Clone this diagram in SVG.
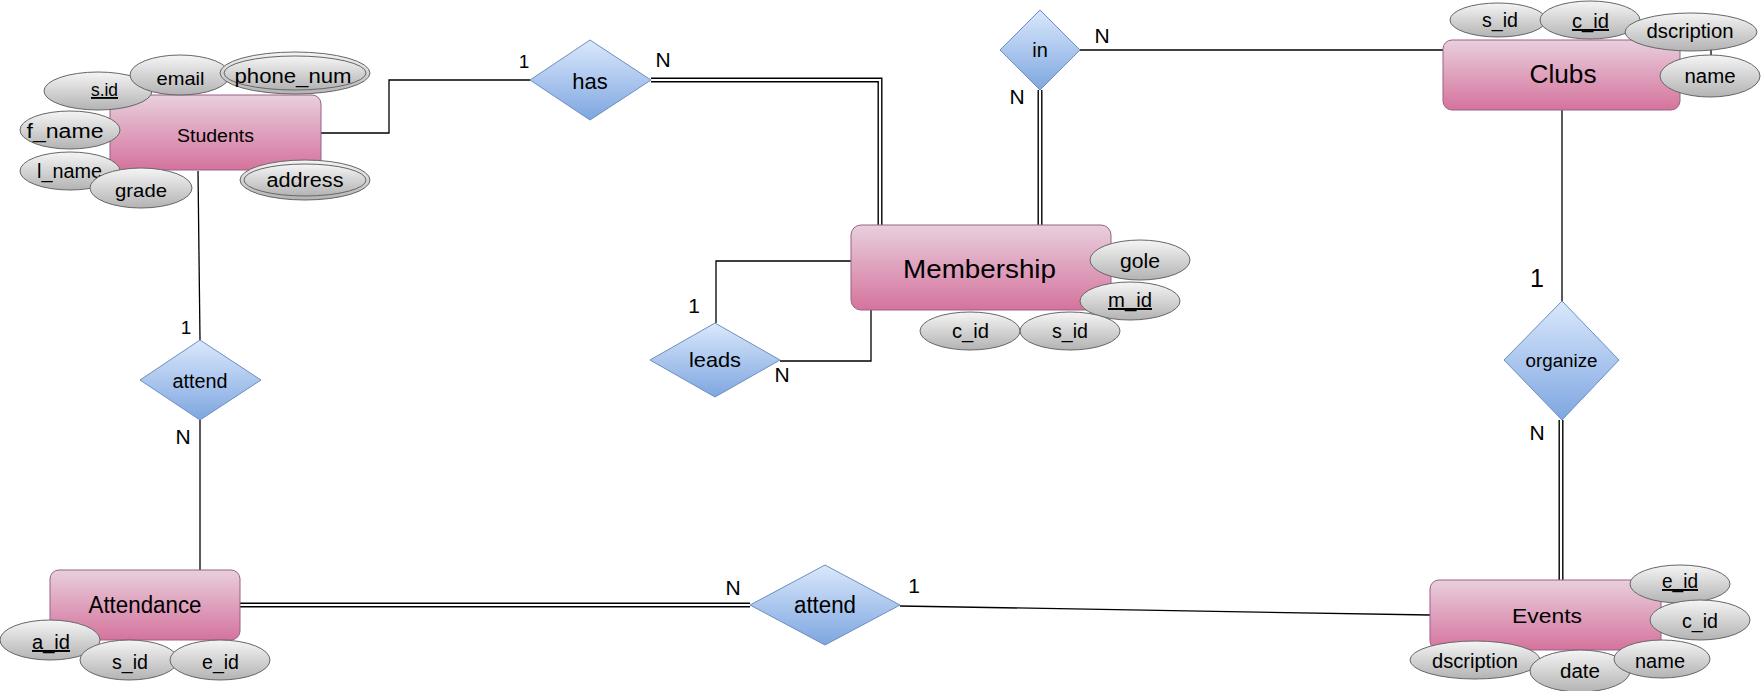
<svg xmlns="http://www.w3.org/2000/svg" width="1761" height="691" viewBox="0 0 1761 691">
<defs>
<linearGradient id="gEnt" x1="0" y1="0" x2="0" y2="1"><stop offset="0" stop-color="#E8CFDD"/><stop offset="1" stop-color="#D5739D"/></linearGradient>
<linearGradient id="gRel" x1="0" y1="0" x2="0" y2="1"><stop offset="0" stop-color="#DAE8FC"/><stop offset="1" stop-color="#7EA6E0"/></linearGradient>
<linearGradient id="gAtt" x1="0" y1="0" x2="0" y2="1"><stop offset="0" stop-color="#F5F5F5"/><stop offset="1" stop-color="#B3B3B3"/></linearGradient>
</defs>
<style>
text{font-family:"Liberation Sans",Arial,sans-serif;text-anchor:middle;fill:#000}
.ent rect{fill:url(#gEnt);stroke:#996185;stroke-width:1}
.rel polygon{fill:url(#gRel);stroke:#6C8EBF;stroke-width:1}
.att ellipse{fill:url(#gAtt);stroke:#666;stroke-width:1}
.ln{stroke:#000;stroke-width:1.3;fill:none}
.dbl{stroke:#000;stroke-width:5;fill:none}
.dbli{stroke:#fff;stroke-width:2.2;fill:none}
.u{text-decoration:underline}
.card{font-size:21px}
</style>
<rect width="1761" height="691" fill="#fff"/>
<g id="connectors">
<polyline class="ln" points="321,133 389,133 389,80 530,80"/>
<polyline class="dbl" points="651,80 880,80 880,225"/>
<polyline class="dbli" points="651,80 880,80 880,225"/>
<line class="ln" x1="1080" y1="50" x2="1443" y2="50"/>
<line class="dbl" x1="1040" y1="90" x2="1040" y2="225"/>
<line class="dbli" x1="1040" y1="90" x2="1040" y2="225"/>
<polyline class="ln" points="851,261 716,261 716,323"/>
<polyline class="ln" points="780,361 871,361 871,310"/>
<line class="ln" x1="1562" y1="110" x2="1562" y2="301"/>
<line class="dbl" x1="1561" y1="420" x2="1561" y2="580"/>
<line class="dbli" x1="1561" y1="420" x2="1561" y2="580"/>
<line class="ln" x1="1430" y1="615" x2="900" y2="606"/>
<line class="dbl" x1="750" y1="605" x2="240" y2="605"/>
<line class="dbli" x1="750" y1="605" x2="240" y2="605"/>
<line class="ln" x1="198" y1="171" x2="200" y2="340"/>
<line class="ln" x1="200" y1="420" x2="200" y2="570"/>
<line class="ln" x1="1711" y1="49" x2="1711" y2="57"/>
<text class="card" x="524" y="68" style="font-size:19px">1</text>
<text class="card" x="663" y="67">N</text>
<text class="card" x="1102" y="43">N</text>
<text class="card" x="1017" y="104">N</text>
<text class="card" x="694" y="313">1</text>
<text class="card" x="782" y="382">N</text>
<text class="card" x="1537" y="287" style="font-size:25px">1</text>
<text class="card" x="1537" y="440">N</text>
<text class="card" x="733" y="595">N</text>
<text class="card" x="914" y="593">1</text>
<text class="card" x="186" y="334" style="font-size:19px">1</text>
<text class="card" x="183" y="444">N</text>
</g>

<g id="students" class="ent"><rect x="110" y="95" width="211" height="75" rx="9"/><text x="215.5" y="142" font-size="18" textLength="77" lengthAdjust="spacingAndGlyphs">Students</text></g>
<g id="s_sid" class="att"><ellipse cx="98" cy="91" rx="54" ry="19"/><text class="u" x="104.5" y="96" font-size="19" textLength="27" lengthAdjust="spacingAndGlyphs">s.id</text></g>
<g id="s_email" class="att"><ellipse cx="180" cy="75" rx="50" ry="20"/><text x="180.5" y="85" font-size="19" textLength="48" lengthAdjust="spacingAndGlyphs">email</text></g>
<g id="s_phone" class="att"><ellipse cx="295" cy="73" rx="75" ry="21"/><ellipse cx="295" cy="73" rx="71" ry="17"/><text x="293" y="83" font-size="21" textLength="117" lengthAdjust="spacingAndGlyphs">phone_num</text></g>
<g id="s_fname" class="att"><ellipse cx="70" cy="130" rx="50" ry="19"/><text x="65" y="138" font-size="20" textLength="77" lengthAdjust="spacingAndGlyphs">f_name</text></g>
<g id="s_lname" class="att"><ellipse cx="70" cy="171" rx="50" ry="19"/><text x="69.5" y="178" font-size="20" textLength="65" lengthAdjust="spacingAndGlyphs">l_name</text></g>
<g id="s_grade" class="att"><ellipse cx="141" cy="188" rx="51" ry="20"/><text x="141" y="197" font-size="19" textLength="52" lengthAdjust="spacingAndGlyphs">grade</text></g>
<g id="s_address" class="att"><ellipse cx="305" cy="180" rx="65" ry="20"/><ellipse cx="305" cy="180" rx="61" ry="16"/><text x="305" y="187" font-size="20" textLength="77" lengthAdjust="spacingAndGlyphs">address</text></g>

<g id="rel_has" class="rel"><polygon points="530,80 590,40 651,80 590,120"/><text x="590" y="89" font-size="22">has</text></g>
<g id="rel_in" class="rel"><polygon points="1000,50 1040,10 1080,50 1040,90"/><text x="1040" y="57" font-size="20">in</text></g>

<g id="clubs_sid" class="att"><ellipse cx="1498" cy="20" rx="48" ry="17"/><text x="1500" y="27" font-size="19.5" textLength="36" lengthAdjust="spacingAndGlyphs">s_id</text></g>
<g id="clubs_cid" class="att"><ellipse cx="1590" cy="20" rx="50" ry="19"/><text class="u" x="1590.5" y="28" font-size="19.5" textLength="37" lengthAdjust="spacingAndGlyphs">c_id</text></g>
<g id="clubs" class="ent"><rect x="1443" y="40" width="237" height="70" rx="9"/><text x="1563" y="83" font-size="25" textLength="67" lengthAdjust="spacingAndGlyphs">Clubs</text></g>
<g id="clubs_desc" class="att"><ellipse cx="1691" cy="32" rx="66" ry="19"/><text x="1690" y="38" font-size="20" textLength="87" lengthAdjust="spacingAndGlyphs">dscription</text></g>
<g id="clubs_name" class="att"><ellipse cx="1710" cy="76" rx="50" ry="21"/><text x="1710" y="83" font-size="20" textLength="51" lengthAdjust="spacingAndGlyphs">name</text></g>

<g id="membership" class="ent"><rect x="851" y="225" width="260" height="85" rx="10"/><text x="979.5" y="278" font-size="25" textLength="153" lengthAdjust="spacingAndGlyphs">Membership</text></g>
<g id="mem_gole" class="att"><ellipse cx="1140" cy="260" rx="50" ry="20"/><text x="1140" y="268" font-size="19.5" textLength="40" lengthAdjust="spacingAndGlyphs">gole</text></g>
<g id="mem_mid" class="att"><ellipse cx="1130" cy="301" rx="50" ry="19"/><text class="u" x="1130" y="307" font-size="19.5" textLength="44" lengthAdjust="spacingAndGlyphs">m_id</text></g>
<g id="mem_cid" class="att"><ellipse cx="970" cy="331" rx="50" ry="19"/><text x="970.5" y="338" font-size="19.5" textLength="37" lengthAdjust="spacingAndGlyphs">c_id</text></g>
<g id="mem_sid" class="att"><ellipse cx="1070" cy="331" rx="50" ry="19"/><text x="1070" y="338" font-size="19.5" textLength="36" lengthAdjust="spacingAndGlyphs">s_id</text></g>

<g id="rel_leads" class="rel"><polygon points="650,360 715,323 780,360 715,397"/><text x="715" y="367" font-size="21" textLength="52" lengthAdjust="spacingAndGlyphs">leads</text></g>
<g id="rel_attend1" class="rel"><polygon points="140,380 200,340 261,380 200,420"/><text x="200" y="388" font-size="20" textLength="55" lengthAdjust="spacingAndGlyphs">attend</text></g>
<g id="rel_organize" class="rel"><polygon points="1504,360 1562,301 1619,360 1562,420"/><text x="1561.5" y="367" font-size="18" textLength="72" lengthAdjust="spacingAndGlyphs">organize</text></g>
<g id="rel_attend2" class="rel"><polygon points="750,605 825,565 900,605 825,645"/><text x="825" y="613" font-size="23" textLength="62" lengthAdjust="spacingAndGlyphs">attend</text></g>

<g id="attendance" class="ent"><rect x="50" y="570" width="190" height="70" rx="9"/><text x="145" y="613" font-size="23" textLength="113" lengthAdjust="spacingAndGlyphs">Attendance</text></g>
<g id="att_aid" class="att"><ellipse cx="50" cy="640" rx="50" ry="20"/><text class="u" x="51" y="649" font-size="19.5" textLength="38" lengthAdjust="spacingAndGlyphs">a_id</text></g>
<g id="att_sid" class="att"><ellipse cx="129" cy="660" rx="49" ry="20"/><text x="130" y="669" font-size="19.5" textLength="36" lengthAdjust="spacingAndGlyphs">s_id</text></g>
<g id="att_eid" class="att"><ellipse cx="220" cy="660" rx="50" ry="20"/><text x="220.5" y="669" font-size="19.5" textLength="37" lengthAdjust="spacingAndGlyphs">e_id</text></g>

<g id="events" class="ent"><rect x="1430" y="580" width="231" height="70" rx="9"/><text x="1547" y="623" font-size="21" textLength="70" lengthAdjust="spacingAndGlyphs">Events</text></g>
<g id="ev_eid" class="att"><ellipse cx="1680" cy="584" rx="50" ry="19"/><text class="u" x="1680" y="588" font-size="19.5" textLength="36" lengthAdjust="spacingAndGlyphs">e_id</text></g>
<g id="ev_cid" class="att"><ellipse cx="1700" cy="620" rx="50" ry="20"/><text x="1700" y="628" font-size="19.5" textLength="36" lengthAdjust="spacingAndGlyphs">c_id</text></g>
<g id="ev_desc" class="att"><ellipse cx="1475" cy="660" rx="65" ry="19"/><text x="1475" y="668" font-size="20" textLength="86" lengthAdjust="spacingAndGlyphs">dscription</text></g>
<g id="ev_date" class="att"><ellipse cx="1580" cy="671" rx="50" ry="21"/><text x="1580" y="678" font-size="20" textLength="40" lengthAdjust="spacingAndGlyphs">date</text></g>
<g id="ev_name" class="att"><ellipse cx="1662" cy="659" rx="48" ry="19"/><text x="1660" y="668" font-size="20" textLength="50" lengthAdjust="spacingAndGlyphs">name</text></g>
</svg>
